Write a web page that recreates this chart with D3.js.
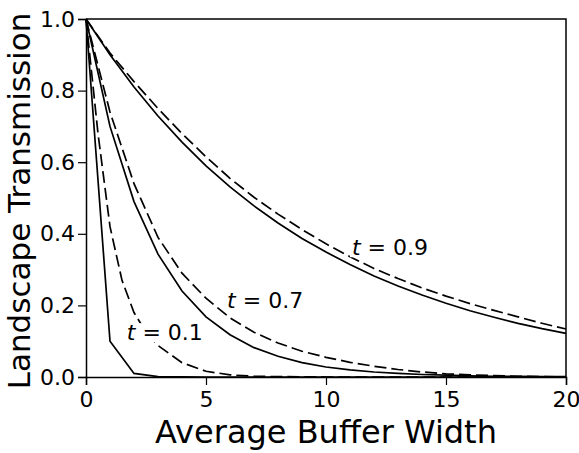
<!DOCTYPE html>
<html>
<head>
<meta charset="utf-8">
<script src="https://cdn.jsdelivr.net/npm/d3@7"></script>
<style>
  html, body { margin: 0; padding: 0; background: #fff; }
  svg { display: block; font-family: "DejaVu Sans", "Liberation Sans", Arial, sans-serif; }
</style>
</head>
<body>
<svg id="chart" width="579" height="453"></svg>
<script>
// buffer widths (integer steps)
const widths = [0, 1, 2, 3, 4, 5, 6, 7, 8, 9, 10, 11, 12, 13, 14, 15, 16, 17, 18, 19, 20];

// t = 0.9
const solid09 = [1, 0.9, 0.81, 0.729, 0.656, 0.59, 0.531, 0.478, 0.43, 0.387, 0.349,
    0.314, 0.282, 0.254, 0.229, 0.206, 0.185, 0.167, 0.15, 0.135, 0.122];
const dashed09 = [1, 0.905, 0.825, 0.75, 0.68, 0.615, 0.555, 0.502, 0.455, 0.412, 0.372,
    0.336, 0.303, 0.275, 0.249, 0.226, 0.205, 0.186, 0.168, 0.15, 0.134];

// t = 0.7
const solid07 = [1, 0.7, 0.49, 0.343, 0.24, 0.168, 0.118, 0.082, 0.058, 0.04, 0.028,
    0.02, 0.014, 0.01, 0.007, 0.005, 0.003, 0.002, 0.0016, 0.001, 0.0008];
const dashed07 = [1, 0.74, 0.54, 0.39, 0.29, 0.22, 0.165, 0.125, 0.095, 0.072, 0.055,
    0.041, 0.03, 0.021, 0.014, 0.009, 0.006, 0.004, 0.002, 0.001, 0];

// t = 0.1
const solid01 = [1, 0.1, 0.01, 0.001, 0.0001, 0, 0, 0, 0, 0, 0,
    0, 0, 0, 0, 0, 0, 0, 0, 0, 0];
const widths01Dashed = [0, 0.5, 1, 1.5, 2, 2.5, 3, 4, 5, 6, 7, 8, 10, 15, 20];
const dashed01 = [1, 0.68, 0.42, 0.27, 0.18, 0.125, 0.088, 0.04, 0.016, 0.006, 0.002, 0.001, 0, 0, 0];

const xTicks = [0, 5, 10, 15, 20];
const yTicks = [0, 0.2, 0.4, 0.6, 0.8, 1.0];

const curveLabels = [
    { t: '0.9', x: 11.08, y: 0.34 },
    { t: '0.7', x: 5.88, y: 0.193 },
    { t: '0.1', x: 1.7, y: 0.103 },
];

const series = [
    { xs: widths, ys: solid09, dashed: false },
    { xs: widths, ys: dashed09, dashed: true },
    { xs: widths, ys: solid07, dashed: false },
    { xs: widths, ys: dashed07, dashed: true },
    { xs: widths, ys: solid01, dashed: false },
    { xs: widths01Dashed, ys: dashed01, dashed: true },
];

const svg = d3.select('#chart');
const margin = { top: 19, right: 13, bottom: 76, left: 86 };
const width = 579 - margin.left - margin.right;
const height = 453 - margin.top - margin.bottom;

const g = svg.append('g').attr('transform', `translate(${margin.left},${margin.top})`);

const x = d3.scaleLinear().domain([0, 20]).range([0, width]);
const y = d3.scaleLinear().domain([0, 1]).range([height, 0]);

const line = d3.line().x((d) => x(d[0])).y((d) => y(d[1]));

series.forEach((s) => {
    g.append('path')
        .datum(s.xs.map((w, i) => [w, s.ys[i]]))
        .attr('fill', 'none')
        .attr('stroke', '#000')
        .attr('stroke-width', 1.7)
        .attr('stroke-dasharray', s.dashed ? '12,5' : null)
        .attr('d', line);
});

// frame (top and right)
g.append('path')
    .attr('d', `M0,0H${width}V${height}`)
    .attr('fill', 'none')
    .attr('stroke', '#000')
    .attr('stroke-width', 1.5);

const xAxis = g.append('g')
    .attr('transform', `translate(0,${height})`)
    .call(d3.axisBottom(x).tickValues(xTicks).tickSize(8).tickPadding(6).tickFormat(d3.format('d')));

const yAxis = g.append('g')
    .call(d3.axisLeft(y).tickValues(yTicks).tickSize(8).tickPadding(3).tickFormat(d3.format('.1f')));

[xAxis, yAxis].forEach((ax) => {
    ax.select('.domain').attr('stroke-width', 1.5);
    ax.selectAll('.tick line').attr('stroke-width', 1.2);
    ax.selectAll('text')
        .attr('font-family', '"DejaVu Sans", "Liberation Sans", Arial, sans-serif')
        .attr('font-size', 22)
        .attr('fill', '#000');
});

g.append('text')
    .attr('x', width / 2)
    .attr('y', height + 66)
    .attr('text-anchor', 'middle')
    .attr('font-size', 32)
    .text('Average Buffer Width');

g.append('text')
    .attr('transform', `translate(-56,${height / 2 + 3}) rotate(-90)`)
    .attr('text-anchor', 'middle')
    .attr('font-size', 31)
    .text('Landscape Transmission');

curveLabels.forEach((d) => {
    const lab = g.append('g');
    const bg = lab.append('rect').attr('fill', '#fff');
    const txt = lab.append('text')
        .attr('x', x(d.x))
        .attr('y', y(d.y))
        .attr('font-size', 22);
    txt.append('tspan').attr('font-style', 'italic').text('t');
    txt.append('tspan').text(` = ${d.t}`);
    const bb = txt.node().getBBox();
    bg.attr('x', bb.x - 2).attr('y', bb.y + 3)
        .attr('width', bb.width + 4).attr('height', bb.height - 6);
});
</script>
</body>
</html>
